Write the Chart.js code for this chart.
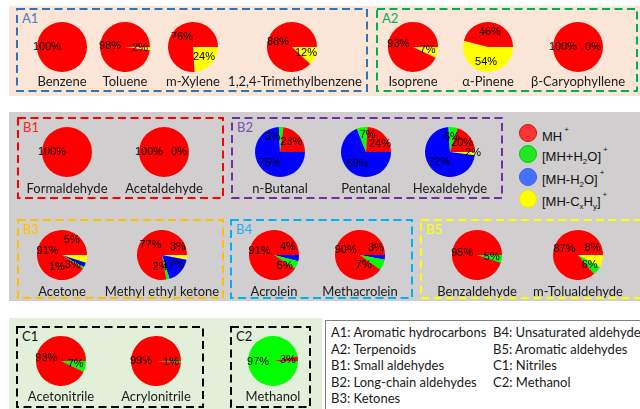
<!DOCTYPE html>
<html>
<head>
<meta charset="utf-8">
<script src="https://cdn.jsdelivr.net/npm/chart.js@4"></script>
<style>
  body { margin: 0; background: #fff; }
  #figure { position: relative; width: 640px; height: 409px; overflow: hidden; background: #fff; }
  #frames { position: absolute; left: 0; top: 0; }
  .name, .tag, .key, .note { position: absolute; white-space: nowrap; font-family: Lato, "Open Sans", sans-serif; }
  .name { font-size: 13px; color: #1a1a1a; transform: translate(-50%, -50%); }
  .tag { font-size: 13px; transform: translateY(-50%); }
  .note { font-size: 13px; color: #1a1a1a; transform: translateY(-50%); }
  .key { font-family: "Liberation Sans", Arial, sans-serif; font-size: 13px; color: #111; transform: translateY(-50%); }
  .key sup { font-size: 8px; vertical-align: 9px; margin-left: 2px; }
  .key sub { font-size: 8px; vertical-align: -3px; }
  canvas.pie { position: absolute; }
</style>
</head>
<body>
<div id="figure">
  <svg id="frames" width="640" height="409"></svg>
</div>
<script>
// compounds, in reading order
const compounds = ["Benzene", "Toluene", "m-Xylene", "1,2,4-Trimethylbenzene", "Isoprene", "α-Pinene", "β-Caryophyllene",
  "Formaldehyde", "Acetaldehyde", "n-Butanal", "Pentanal", "Hexaldehyde",
  "Acetone", "Methyl ethyl ketone", "Acrolein", "Methacrolein", "Benzaldehyde", "m-Tolualdehyde",
  "Acetonitrile", "Acrylonitrile", "Methanol"];

// product ion shares in % (null = not labelled)
const mhPct        = [100, 98, 76, 88, 93, 46, 100, 100, 100, 23, 24, 20, 91, 77, 91, 90, 95, 87, 93, 99, 3];
const hydratePct   = [null, null, null, null, null, null, null, null, null, 3, 7, 6, 1, 2, 5, 7, 5, 6, 7, 1, 97];
const dehydratePct = [null, null, null, null, null, null, null, null, null, 75, 69, 72, 3, 17, 4, 3, null, null, null, null, null];
const fragmentPct  = [null, 2, 24, 12, 7, 54, 0, null, 0, null, null, 2, 5, 3, null, null, null, 8, null, null, null];

const ionColors = ["#ff0000", "#00ff00", "#0000ff", "#ffff00"];
const ionLabels = ["MH<sup>+</sup>", "[MH+H<sub>2</sub>O]<sup>+</sup>", "[MH-H<sub>2</sub>O]<sup>+</sup>", "[MH-C<sub>x</sub>H<sub>y</sub>]<sup>+</sup>"];
const keyColors = ["#ff3434", "#1ee81e", "#4570ff", "#ffff00"];
const keyStrokes = ["#d01010", "#10c010", "#3a60e0", "#e8e800"];

const groupCodes = ["A1", "A2", "B1", "B2", "B3", "B4", "B5", "C1", "C2"];
const groupNames = ["Aromatic hydrocarbons", "Terpenoids", "Small aldehydes", "Long-chain aldehydes", "Ketones",
  "Unsaturated aldehydes", "Aromatic aldehydes", "Nitriles", "Methanol"];

// ---- layout ----
const R = 25;
const pieCenters = [[62, 47], [125, 47], [193, 47], [292, 47], [413, 47], [488, 47], [578, 47],
  [67, 152], [164, 152], [280, 152], [366, 152], [450, 152],
  [62, 255], [162, 255], [274, 255], [360, 255], [477, 255], [578, 255],
  [61, 361], [156, 361], [273, 361]];
const nameRowY = { 47: 81, 152: 188, 255: 291, 361: 396 };

// small label shifts where slices are crowded: compound index -> ion index -> [dx, dy]
const labelShift = {
  9: { 1: [-8, 0] },
  10: { 0: [3, 2], 1: [4, -2] },
  11: { 3: [8, 0] },
  12: { 1: [-18, 4], 2: [-3, 4], 3: [-5, -17] },
  13: { 1: [-5, -3], 3: [1, -9] },
  14: { 1: [-3, 5], 2: [-1, -10] },
  15: { 1: [-10, 4], 2: [1, -8] },
  17: { 3: [0, -11] }
};

const panels = [
  { x: 9, y: 6, w: 640, h: 90, fill: "#fbe5d6" },
  { x: 9, y: 112, w: 640, h: 189, fill: "#d0cece" },
  { x: 9, y: 318, w: 313, h: 95, fill: "#e2f0d9" }
];
const frames = [
  { x: 17, y: 9, w: 350, h: 82, color: "#2e75b6", tag: "#4a7ebb" },
  { x: 377, y: 9, w: 260, h: 82, color: "#00b050", tag: "#00b050" },
  { x: 18, y: 118, w: 205, h: 80, color: "#ff0000", tag: "#ff2020" },
  { x: 232, y: 118, w: 270, h: 80, color: "#7030a0", tag: "#8050b0" },
  { x: 18, y: 220, w: 205, h: 78, color: "#ffc000", tag: "#ffc000" },
  { x: 231, y: 220, w: 181, h: 78, color: "#00b0f0", tag: "#20b0f0" },
  { x: 421, y: 220, w: 240, h: 78, color: "#ffff00", tag: "#ffff00" },
  { x: 17, y: 327, w: 186, h: 80, color: "#000000", tag: "#111111" },
  { x: 231, y: 327, w: 79, h: 80, color: "#000000", tag: "#111111" }
];

const figure = document.getElementById("figure");
const svg = document.getElementById("frames");
const NS = "http://www.w3.org/2000/svg";

function addRect(attrs) {
  const r = document.createElementNS(NS, "rect");
  for (const k in attrs) r.setAttribute(k, attrs[k]);
  svg.appendChild(r);
}

function addText(cls, html, x, y, color) {
  const d = document.createElement("div");
  d.className = cls;
  d.innerHTML = html;
  d.style.left = x + "px";
  d.style.top = y + "px";
  if (color) d.style.color = color;
  figure.appendChild(d);
  return d;
}

// backgrounds and dashed group frames
panels.forEach(p => addRect({ x: p.x, y: p.y, width: p.w, height: p.h, fill: p.fill }));
addRect({ x: 325.5, y: 320.5, width: 330, height: 100, fill: "#fff", stroke: "#7f7f7f", "stroke-width": 1 });
frames.forEach((f, i) => {
  addRect({ x: f.x, y: f.y, width: f.w, height: f.h, fill: "none", stroke: f.color, "stroke-width": 2, "stroke-dasharray": "8 4.5" });
  addText("tag", groupCodes[i], f.x + 5, f.y + 9, f.tag);
});

// group descriptions box
groupCodes.forEach((code, i) => {
  const col = i < 5 ? 0 : 1;
  const row = i < 5 ? i : i - 5;
  addText("note", code + ": " + groupNames[i], col === 0 ? 331 : 493, 332 + row * 16.6);
});

// ion legend
ionLabels.forEach((label, i) => {
  const cy = [133, 154, 177, 199][i];
  const c = document.createElementNS(NS, "circle");
  c.setAttribute("cx", 528); c.setAttribute("cy", cy); c.setAttribute("r", 8.5);
  c.setAttribute("fill", keyColors[i]); c.setAttribute("stroke", keyStrokes[i]); c.setAttribute("stroke-width", 1);
  svg.appendChild(c);
  addText("key", label, 542, cy + 1);
});

// percent labels at 60% of the radius, on each slice's middle angle
const pctLabels = {
  id: "pctLabels",
  afterDatasetsDraw(chart, args, opts) {
    const ctx = chart.ctx;
    const meta = chart.getDatasetMeta(0);
    ctx.save();
    ctx.font = '11px "Liberation Sans", Arial, sans-serif';
    ctx.fillStyle = "#000";
    ctx.textAlign = "center";
    ctx.textBaseline = "middle";
    meta.data.forEach((arc, i) => {
      const ion = 3 - i; // data is stored reversed
      const value = opts.values[ion];
      if (value === null) return;
      const p = arc.getProps(["x", "y", "startAngle", "endAngle", "outerRadius"], true);
      const mid = (p.startAngle + p.endAngle) / 2;
      const shift = opts.shift[ion] || [0, 0];
      ctx.fillText(value + "%", p.x + Math.cos(mid) * p.outerRadius * 0.6 + shift[0],
        p.y + Math.sin(mid) * p.outerRadius * 0.6 + shift[1]);
    });
    ctx.restore();
  }
};

function drawPie(i) {
  const [cx, cy] = pieCenters[i];
  const W = 90, H = 60;
  const canvas = document.createElement("canvas");
  canvas.className = "pie";
  canvas.width = W; canvas.height = H;
  canvas.style.left = (cx - W / 2) + "px";
  canvas.style.top = (cy - H / 2) + "px";
  figure.appendChild(canvas);

  const values = [mhPct[i], hydratePct[i], dehydratePct[i], fragmentPct[i]];
  // slices run counter-clockwise from 3 o'clock: reverse them and draw clockwise
  const data = values.map(v => v === null ? 0 : v).reverse();

  new Chart(canvas.getContext("2d"), {
    type: "pie",
    data: {
      labels: ionLabels.slice().reverse(),
      datasets: [{ data: data, backgroundColor: ionColors.slice().reverse(), borderWidth: 0 }]
    },
    options: {
      responsive: false,
      animation: false,
      rotation: 90,
      layout: { padding: { left: W / 2 - R, right: W / 2 - R, top: H / 2 - R, bottom: H / 2 - R } },
      plugins: {
        legend: { display: false },
        tooltip: { enabled: false },
        pctLabels: { values: values, shift: labelShift[i] || {} }
      }
    },
    plugins: [pctLabels]
  });

  addText("name", compounds[i], i === 3 ? cx + 3 : cx, nameRowY[cy]);
}

compounds.forEach((c, i) => drawPie(i));
</script>
</body>
</html>
